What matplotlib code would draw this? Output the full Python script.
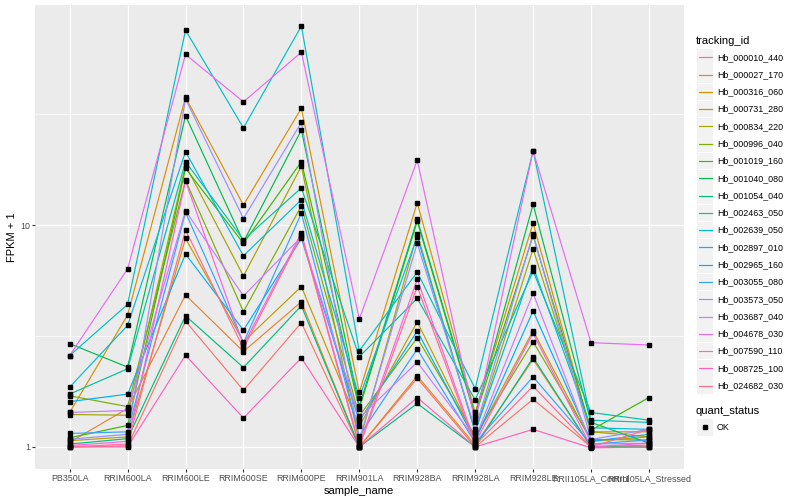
import matplotlib
matplotlib.use("Agg")
import matplotlib.pyplot as plt
import numpy as np
from matplotlib.patches import Rectangle
from matplotlib.lines import Line2D

plt.rcParams['font.family'] = ['Liberation Sans', 'DejaVu Sans']

samples = ["PB350LA", "RRIM600LA", "RRIM600LE", "RRIM600SE", "RRIM600PE",
           "RRIM901LA", "RRIM928BA", "RRIM928LA", "RRIM928LE",
           "RRII105LA_Control", "RRII105LA_Stressed"]

tracking_ids = ["Hb_000010_440", "Hb_000027_170", "Hb_000316_060", "Hb_000731_280",
                "Hb_000834_220", "Hb_000996_040", "Hb_001019_160", "Hb_001040_080",
                "Hb_001054_040", "Hb_002463_050", "Hb_002639_050", "Hb_002897_010",
                "Hb_002965_160", "Hb_003055_080", "Hb_003573_050", "Hb_003687_040",
                "Hb_004678_030", "Hb_007590_110", "Hb_008725_100", "Hb_024682_030"]

# FPKM + 1 per tracking_id, in sample order
fpkm = {
    "Hb_000010_440": [1.00, 1.01, 3.69, 1.80, 3.63, 1.00, 2.04, 1.00, 1.64, 1.00, 1.00],
    "Hb_000027_170": [1.05, 1.49, 4.84, 2.69, 4.51, 1.00, 2.09, 1.02, 2.48, 1.00, 1.02],
    "Hb_000316_060": [1.43, 3.93, 37.6, 12.3, 33.6, 1.76, 12.6, 1.43, 10.2, 1.17, 1.17],
    "Hb_000731_280": [1.067, 1.11, 8.7, 2.98, 5.28, 1.24, 3.66, 1.09, 3.34, 1.06, 1.11],
    "Hb_000834_220": [1.40, 1.39, 18.6, 5.89, 18.4, 1.045, 9.1, 1.17, 7.8, 1.17, 1.11],
    "Hb_000996_040": [1.70, 1.52, 15.9, 4.07, 12.2, 1.38, 3.10, 1.12, 2.98, 1.08, 1.075],
    "Hb_001019_160": [1.10, 1.25, 18.0, 8.27, 19.3, 1.49, 10.4, 1.37, 8.95, 1.19, 1.67],
    "Hb_001040_080": [2.92, 2.29, 31.1, 8.4, 26.8, 1.53, 10.6, 1.39, 12.4, 1.29, 1.04],
    "Hb_001054_040": [1.03, 1.09, 3.90, 2.28, 4.33, 1.00, 1.57, 1.00, 2.53, 1.00, 1.00],
    "Hb_002463_050": [1.73, 2.25, 19.3, 8.57, 14.7, 2.55, 4.67, 1.63, 6.2, 1.43, 1.32],
    "Hb_002639_050": [2.58, 4.39, 75.5, 27.4, 78.8, 2.71, 6.14, 1.83, 21.6, 1.32, 1.29],
    "Hb_002897_010": [1.86, 3.53, 21.4, 7.27, 13.0, 1.67, 8.85, 1.17, 6.5, 1.22, 1.20],
    "Hb_002965_160": [1.60, 1.73, 7.4, 3.36, 8.7, 1.31, 3.33, 1.07, 4.10, 1.06, 1.14],
    "Hb_003055_080": [1.15, 1.17, 11.4, 2.95, 11.3, 1.12, 2.76, 1.045, 2.07, 1.03, 1.075],
    "Hb_003573_050": [1.083, 1.14, 37.0, 10.7, 29.0, 1.075, 8.27, 1.20, 9.1, 1.08, 1.20],
    "Hb_003687_040": [1.43, 1.46, 11.6, 4.79, 8.85, 1.35, 2.41, 1.09, 4.92, 1.03, 1.04],
    "Hb_004678_030": [2.58, 6.34, 58.7, 35.9, 60.1, 3.77, 19.6, 1.30, 21.6, 2.95, 2.88],
    "Hb_007590_110": [1.014, 1.06, 15.8, 2.88, 9.2, 1.02, 5.7, 1.045, 3.25, 1.00, 1.04],
    "Hb_008725_100": [1.00, 1.00, 2.59, 1.35, 2.52, 1.00, 1.67, 1.00, 1.20, 0.99, 1.00],
    "Hb_024682_030": [1.00, 1.03, 9.5, 2.78, 9.0, 1.00, 5.28, 1.02, 1.88, 1.00, 1.20],
}

colors = ["#F8766D", "#EA8331", "#D89000", "#C09B00", "#A3A500", "#7CAE00",
          "#39B600", "#00BB4E", "#00BF7D", "#00C1A3", "#00BFC4", "#00BAE0",
          "#00B0F6", "#35A2FF", "#9590FF", "#C77CFF", "#E76BF3", "#FA62DB",
          "#FF62BC", "#FF6C91"]

W, H = 800, 500
fig = plt.figure(figsize=(8, 5), dpi=100)
fig.patch.set_facecolor("white")
left, right, top, bottom = 34.9, 683.7, 5.0, 469.0
ax = fig.add_axes([left / W, 1 - bottom / H, (right - left) / W, (bottom - top) / H])
ax.set_facecolor("#EBEBEB")
for s in ax.spines.values():
    s.set_visible(False)

xs = np.arange(len(samples))
for tid, col in zip(tracking_ids, colors):
    ax.plot(xs, fpkm[tid], color=col, lw=0.85, zorder=3, solid_capstyle="butt")
for tid in tracking_ids:
    ax.plot(xs, fpkm[tid], ls="none", marker="s", ms=2.3, color="black", zorder=4)

ax.set_yscale("log")
ax.set_yticks([1, 10])
ax.set_yticklabels(["1", "10"])
ax.yaxis.set_minor_locator(matplotlib.ticker.FixedLocator([10 ** -0.5, 10 ** 0.5, 10 ** 1.5]))
ax.yaxis.set_minor_formatter(matplotlib.ticker.NullFormatter())
ax.set_xticks(xs)
ax.set_xticklabels(samples)

allv = np.concatenate([np.array(v) for v in fpkm.values()])
lo, hi = np.log10(allv.min()), np.log10(allv.max())
pad = 0.05 * (hi - lo)
ax.set_ylim(10 ** (lo - pad), 10 ** (hi + pad))
ax.set_xlim(-0.6, len(samples) - 1 + 0.6)

ax.grid(True, which="major", color="white", lw=1.0, zorder=0)
ax.grid(True, which="minor", axis="y", color="white", lw=0.5, zorder=0)
ax.set_axisbelow(True)
ax.tick_params(which="major", length=2.0, width=0.8, color="#333333",
               labelsize=6.4, labelcolor="#4D4D4D", pad=1.5)
ax.tick_params(which="minor", length=0)

ax.set_xlabel("sample_name", fontsize=8, labelpad=2)
ax.set_ylabel("FPKM + 1", fontsize=8)
ax.yaxis.set_label_coords((17 - left) / (right - left), 0.5)

# legend drawn in pixel space
ov = fig.add_axes([0, 0, 1, 1])
ov.set_xlim(0, W)
ov.set_ylim(H, 0)
ov.axis("off")
ov.patch.set_visible(False)

ov.text(696, 40.5, "tracking_id", fontsize=8, va="center", ha="left")
y0, dy = 57.3, 17.28
for i, (tid, col) in enumerate(zip(tracking_ids, colors)):
    yc = y0 + i * dy
    ov.add_patch(Rectangle((696.7, yc - 8.3), 16.6, 16.6, facecolor="#F2F2F2",
                           edgecolor="none"))
    ov.add_line(Line2D([698.5, 711.5], [yc, yc], color=col, lw=0.85))
    ov.text(717, yc, tid, fontsize=6.4, va="center", ha="left")

ov.text(696, 411.5, "quant_status", fontsize=8, va="center", ha="left")
ov.add_patch(Rectangle((696.7, 427.3 - 8.3), 16.6, 16.6, facecolor="#F2F2F2",
                       edgecolor="none"))
ov.plot([705], [427.3], marker="s", ms=2.3, color="black")
ov.text(717, 427.3, "OK", fontsize=6.4, va="center", ha="left")

fig.savefig("out.png", dpi=100)
